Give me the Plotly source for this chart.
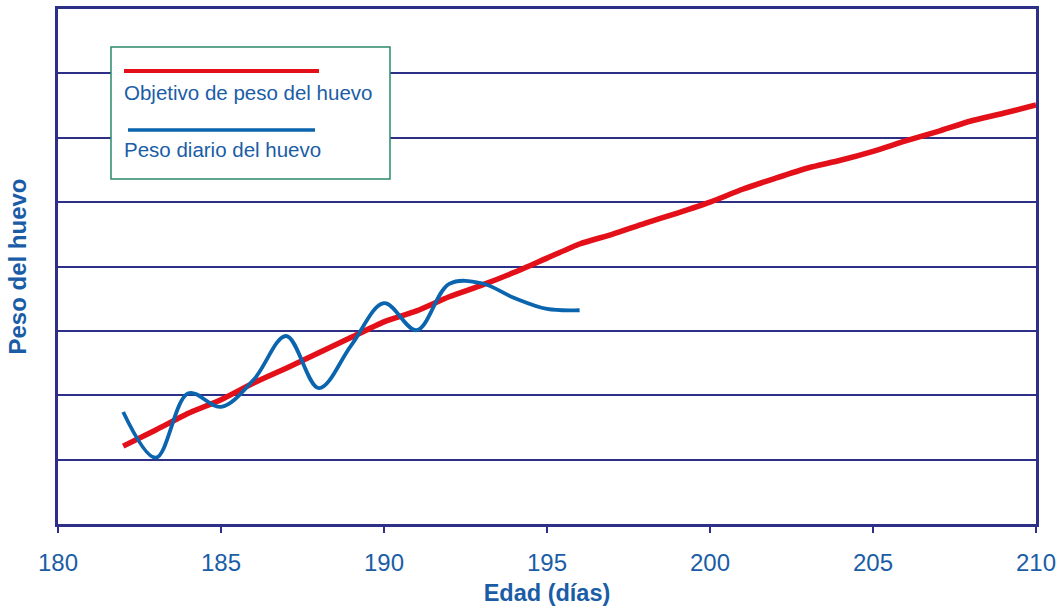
import plotly.graph_objects as go

# Age in days
dias_objetivo = list(range(182, 211))
dias_diario = list(range(182, 197))

# Target egg weight (relative units, one grid step per unit)
peso_objetivo = [1.21, 1.46, 1.72, 1.93, 2.19, 2.42, 2.66, 2.90, 3.14, 3.31,
                 3.53, 3.71, 3.91, 4.13, 4.35, 4.50, 4.67, 4.83, 5.00, 5.20,
                 5.37, 5.53, 5.65, 5.79, 5.95, 6.10, 6.26, 6.38, 6.51]

# Daily measured egg weight
peso_diario = [1.74, 1.03, 2.03, 1.82, 2.24, 2.92, 2.11, 2.78, 3.43, 3.01,
               3.73, 3.74, 3.51, 3.34, 3.32]

x_ticks = [180, 185, 190, 195, 200, 205, 210]

NAVY = "#2E3087"
TEXT_BLUE = "#1A5DA6"
RED = "#E3101A"
BLUE = "#0B64AE"
FONT = "Liberation Sans, Arial, sans-serif"

fig = go.Figure()

fig.add_trace(go.Scatter(
    x=dias_objetivo, y=peso_objetivo, mode="lines",
    line=dict(color=RED, width=5.5, shape="spline", smoothing=0.6),
    name="Objetivo de peso del huevo", hoverinfo="x+y",
))
fig.add_trace(go.Scatter(
    x=dias_diario, y=peso_diario, mode="lines",
    line=dict(color=BLUE, width=3.8, shape="spline", smoothing=1.0),
    name="Peso diario del huevo", hoverinfo="x+y",
))

W, H = 1059, 608
L, R, T, B = 58, 23, 9, 84
pw, ph = W - L - R, H - T - B


def px(x):
    return (x - L) / pw


def py(y):
    return (H - B - y) / ph


shapes = [
    # legend frame
    dict(type="rect", xref="paper", yref="paper",
         x0=px(111), x1=px(390), y0=py(179), y1=py(47),
         line=dict(color="#2A8A6A", width=1.5), fillcolor="white", layer="above"),
    # legend line samples
    dict(type="line", xref="paper", yref="paper",
         x0=px(124), x1=px(319), y0=py(71), y1=py(71),
         line=dict(color=RED, width=4), layer="above"),
    dict(type="line", xref="paper", yref="paper",
         x0=px(128), x1=px(315), y0=py(130), y1=py(130),
         line=dict(color=BLUE, width=3.5), layer="above"),
]

annotations = [
    dict(text="Objetivo de peso del huevo", xref="paper", yref="paper",
         x=px(122), y=py(93), xanchor="left", yanchor="middle", showarrow=False,
         font=dict(family=FONT, size=20.5, color=TEXT_BLUE)),
    dict(text="Peso diario del huevo", xref="paper", yref="paper",
         x=px(122), y=py(150), xanchor="left", yanchor="middle", showarrow=False,
         font=dict(family=FONT, size=20.5, color=TEXT_BLUE)),
]

fig.update_layout(
    width=W, height=H,
    margin=dict(l=L, r=R, t=T, b=B),
    paper_bgcolor="white", plot_bgcolor="white",
    showlegend=False,
    shapes=shapes, annotations=annotations,
    font=dict(family=FONT, color=TEXT_BLUE),
    xaxis=dict(
        range=[180, 210], tickvals=x_ticks, ticktext=[str(v) for v in x_ticks],
        showgrid=False, zeroline=False, automargin=False,
        showline=True, linecolor=NAVY, linewidth=3, mirror=True,
        ticks="outside", ticklen=6, tickwidth=2, tickcolor=NAVY,
        ticklabelstandoff=9,
        tickfont=dict(family=FONT, size=24, color=TEXT_BLUE),
        title=dict(text="<b>Edad (días)</b>", standoff=10,
                   font=dict(family=FONT, size=23.5, color=TEXT_BLUE)),
    ),
    yaxis=dict(
        range=[0, 8], dtick=1, tick0=0,
        showgrid=True, gridcolor=NAVY, gridwidth=1.6,
        zeroline=False, showticklabels=False, ticks="", automargin=False,
        showline=True, linecolor=NAVY, linewidth=3, mirror=True,
        title=dict(text="<b>Peso del huevo</b>", standoff=22,
                   font=dict(family=FONT, size=24, color=TEXT_BLUE)),
    ),
)

fig.write_html("out.html")
